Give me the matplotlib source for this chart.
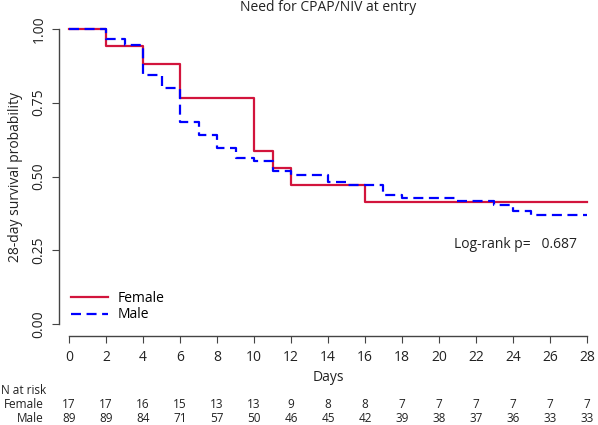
import matplotlib
matplotlib.use("Agg")
import matplotlib.pyplot as plt
from matplotlib.transforms import blended_transform_factory

plt.rcParams["font.family"] = ["Open Sans", "DejaVu Sans"]

# Kaplan-Meier steps
female_times = [0, 2, 4, 6, 10, 11, 12, 16]
female_surv = [1.0, 0.941, 0.882, 0.765, 0.588, 0.529, 0.471, 0.412]
male_times = [0, 2, 3, 4, 5, 6, 7, 8, 9, 10, 11, 12, 14, 15, 17, 18, 21, 23, 24, 25]
male_surv = [1.0, 0.966, 0.944, 0.843, 0.798, 0.685, 0.640, 0.596, 0.562, 0.551,
             0.517, 0.506, 0.483, 0.472, 0.438, 0.427, 0.416, 0.404, 0.382, 0.371]
end_day = 28

risk_days = list(range(0, 29, 2))
female_risk = [17, 17, 16, 15, 13, 13, 9, 8, 8, 7, 7, 7, 7, 7, 7]
male_risk = [89, 89, 84, 71, 57, 50, 46, 45, 42, 39, 38, 37, 36, 33, 33]

y_ticks = [0.0, 0.25, 0.5, 0.75, 1.0]
p_value = "0.687"

W, H = 598, 425
fig = plt.figure(figsize=(W / 100, H / 100), dpi=100)
ax = fig.add_axes([59 / W, (H - 336) / H, (597 - 59) / W, (336 - 17) / H])

red = "#d2143c"
blue = "#0000ff"
ax.step(female_times + [end_day], female_surv + [female_surv[-1]], where="post",
        color=red, linewidth=1.6, label="Female", zorder=2)
ax.step(male_times + [end_day], male_surv + [male_surv[-1]], where="post",
        color=blue, linewidth=1.6, dashes=(4.5, 2.5), label="Male", zorder=3)

ax.set_xlim(-0.55, 28.55)
ax.set_ylim(-0.04, 1.04)
ax.set_xticks(risk_days)
ax.set_yticks(y_ticks)
ax.set_yticklabels([f"{v:.2f}" for v in y_ticks], rotation=90, va="center")

for side in ("top", "right"):
    ax.spines[side].set_visible(False)
ax.spines["left"].set_bounds(0, 1)
ax.spines["bottom"].set_bounds(0, 28)
for side in ("left", "bottom"):
    ax.spines[side].set_color("#444444")
    ax.spines[side].set_linewidth(1.0)
ax.tick_params(axis="both", length=5, color="#444444", labelsize=10, labelcolor="#222222")
ax.tick_params(axis="y", pad=4)
ax.tick_params(axis="x", pad=5)

ax.set_xlabel("Days", fontsize=10, color="#222222", labelpad=4)
ax.set_ylabel("28-day survival probability", fontsize=10, color="#222222", labelpad=6)
ax.set_title("Need for CPAP/NIV at entry", fontsize=10, color="#222222", pad=4)

ax.text(20.8, 0.27, f"Log-rank p=   {p_value}", fontsize=10, color="#222222", va="center")

ax.legend(loc="lower left", bbox_to_anchor=(0.005, 0.012), frameon=False, fontsize=10,
          handlelength=2.6, handletextpad=0.7, labelspacing=0.1, borderaxespad=0.3)

# number at risk table
trans = blended_transform_factory(ax.transData, fig.transFigure)
fig.text(1 / W, 1 - 390 / H, "N at risk", fontsize=8.5, va="center", ha="left", color="#222222")
fig.text(44 / W, 1 - 405 / H, "Female", fontsize=8.5, va="center", ha="right", color="#222222")
fig.text(44 / W, 1 - 418 / H, "Male", fontsize=8.5, va="center", ha="right", color="#222222")
for d, f, m in zip(risk_days, female_risk, male_risk):
    ax.text(d, 1 - 405 / H, str(f), transform=trans, fontsize=8.5, ha="center", va="center",
            color="#222222", clip_on=False)
    ax.text(d, 1 - 418 / H, str(m), transform=trans, fontsize=8.5, ha="center", va="center",
            color="#222222", clip_on=False)

fig.savefig("out.png", dpi=100)
